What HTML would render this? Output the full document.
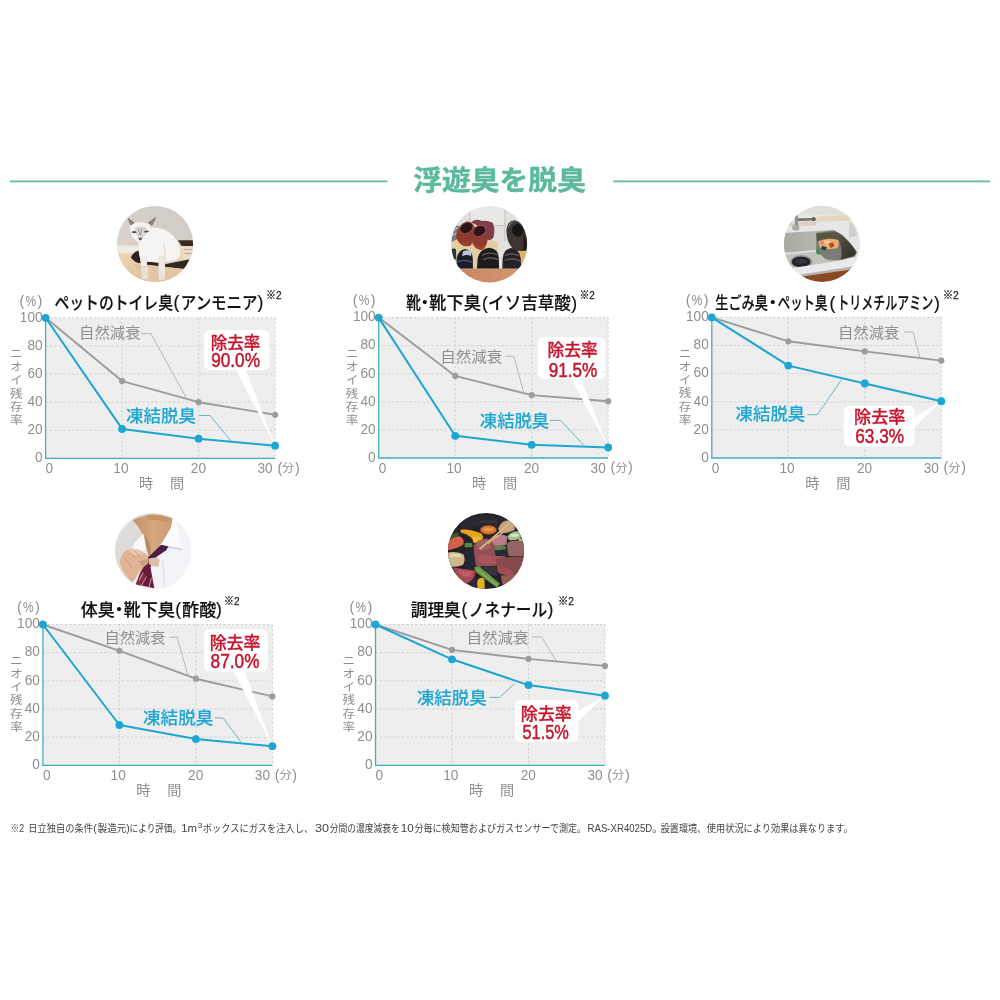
<!DOCTYPE html>
<html lang="ja">
<head>
<meta charset="utf-8">
<title>浮遊臭を脱臭</title>
<style>
html,body{margin:0;padding:0;background:#fff;}
body{width:1000px;height:1000px;overflow:hidden;font-family:"Liberation Sans", "Noto Sans CJK JP", sans-serif;}
svg{display:block;}
svg text{font-family:"Liberation Sans", "Noto Sans CJK JP", sans-serif;}
.gr{stroke:#cfcfcf;stroke-width:1;stroke-dasharray:2.2 2.2;fill:none;}
</style>
</head>
<body>
<svg width="1000" height="1000" viewBox="0 0 1000 1000">
<rect width="1000" height="1000" fill="#ffffff"/>
<line x1="10" y1="181.4" x2="387.5" y2="181.4" stroke="#5fb9a0" stroke-width="1.6"/>
<line x1="613.4" y1="181.4" x2="990" y2="181.4" stroke="#5fb9a0" stroke-width="1.6"/>
<text x="499.6" y="190.1" font-size="27" font-weight="700" fill="#5cb99d" stroke="#5cb99d" stroke-width="0.42" stroke-linejoin="round" text-anchor="middle" textLength="172.6" lengthAdjust="spacingAndGlyphs">浮遊臭を脱臭</text>
<defs>
<clipPath id="c1"><circle cx="155" cy="244" r="38.1"/></clipPath>
<clipPath id="c2"><circle cx="489.3" cy="244.3" r="38.1"/></clipPath>
<clipPath id="c3"><circle cx="822" cy="243.9" r="38.1"/></clipPath>
<clipPath id="c4"><circle cx="153" cy="551" r="38.1"/></clipPath>
<clipPath id="c5"><circle cx="486" cy="551" r="38.1"/></clipPath>
<filter id="bl" x="-10%" y="-10%" width="120%" height="120%"><feGaussianBlur stdDeviation="9"/></filter>
<linearGradient id="g1wall" x1="0" y1="1" x2="1" y2="0"><stop offset="0" stop-color="#e3d7cb"/><stop offset="0.5" stop-color="#d6cfc9"/><stop offset="1" stop-color="#cecac6"/></linearGradient>
<linearGradient id="g1floor" x1="0" y1="0" x2="0" y2="1"><stop offset="0" stop-color="#eedcc2"/><stop offset="1" stop-color="#dfbd94"/></linearGradient>
<linearGradient id="g2wood" x1="0" y1="0" x2="1" y2="0"><stop offset="0" stop-color="#c9805c"/><stop offset="1" stop-color="#d79a78"/></linearGradient>
<linearGradient id="g3basin" x1="0" y1="0" x2="1" y2="0"><stop offset="0" stop-color="#a9a8a1"/><stop offset="0.45" stop-color="#b7b6af"/><stop offset="1" stop-color="#9b9a90"/></linearGradient>
<linearGradient id="g3dark" x1="0" y1="0" x2="1" y2="1"><stop offset="0" stop-color="#5d5e4c"/><stop offset="1" stop-color="#2c2d2b"/></linearGradient>
<linearGradient id="g4neck" x1="0" y1="0" x2="1" y2="0"><stop offset="0" stop-color="#bf9064"/><stop offset="0.5" stop-color="#d5a87e"/><stop offset="1" stop-color="#cd9c70"/></linearGradient>
</defs>
<!-- photo 1 : cat -->
<g clip-path="url(#c1)"><g transform="translate(114 203) scale(0.082)">
<rect x="0" y="0" width="1000" height="1000" fill="url(#g1wall)"/>
<g filter="url(#bl)">
<rect x="-20" y="520" width="1040" height="500" fill="url(#g1floor)"/>
<path d="M-20 520 H300 V610 H-20Z" fill="#f0ebe2"/>
<path d="M780 455 L1000 455 L1000 528 L825 525 Z" fill="#3a2b22"/>
<path d="M825 528 H1000 V700 H850 Z" fill="#e9dfcc"/>
<path d="M850 560 h110 v14 h-110z M860 610 h100 v12 h-100z" fill="#b9aa92"/>
<path d="M205 665 Q235 600 300 580 L335 735 Q260 740 205 665Z" fill="#2b2422"/>
<path d="M330 705 L640 745 L920 685 L860 805 L640 780 L330 745Z" fill="#2d2624"/>
<path d="M250 740 L860 805 L760 940 L330 945 Z" fill="#e0c6a3"/>
<path d="M330 780 h90 l-6 150 h-80z M540 800 h85 l-8 140 h-72z" fill="#eadfd2"/>
<path d="M190 300 Q200 235 300 235 Q420 230 450 300 Q620 280 740 420 Q830 540 800 660 Q740 720 620 715 L330 715 Q290 610 300 480 Q200 430 190 300Z" fill="#f6f4f2"/>
<path d="M320 640 h85 l-4 130 h-76z" fill="#f2efeb"/>
<path d="M540 640 h85 l-4 250 h-76z" fill="#ece7e1"/>
<path d="M600 500 Q640 600 615 715" stroke="#dfd9d3" stroke-width="14" fill="none"/>
<path d="M165 180 L250 240 L205 275 Z" fill="#6a625f"/>
<path d="M515 170 L465 275 L415 240 Z" fill="#6a625f"/>
<path d="M185 205 L235 245 L210 262Z M495 198 L462 258 L435 240Z" fill="#9a8f8a"/>
<path d="M255 300 Q320 275 395 300 Q410 340 395 380 L330 435 L265 385 Q245 340 255 300Z" fill="#dad6d2"/>
<path d="M212 355 q33 -26 66 2 q-33 26 -66 -2z M362 350 q33 -28 68 -4 q-34 28 -68 4z" fill="#505660"/>
<path d="M290 310 l30 100 l30 -100 l-11 0 l-19 62 l-19 -62z" fill="#9a928e"/>
<path d="M292 412 q28 36 58 0 l-17 42 l-24 0z" fill="#5c4c4a"/>
</g></g></g>
<!-- photo 2 : shoes -->
<g clip-path="url(#c2)"><g transform="translate(449 203) scale(0.082)">
<rect x="0" y="0" width="1000" height="1000" fill="#e2e0dd"/>
<g filter="url(#bl)">
<rect x="255" y="40" width="425" height="235" fill="#e9e8e6"/>
<path d="M255 40 V300 M680 40 V560 M560 275 H690" stroke="#c6c4c2" stroke-width="12" fill="none"/>
<path d="M0 470 L330 400 L600 480 L600 810 L0 810 Z" fill="#e2cea2"/>
<path d="M820 560 H1000 V810 H820Z" fill="#dfb46c"/>
<path d="M600 470 H700 V810 H600Z" fill="#e5e2dd"/>
<rect x="0" y="800" width="1000" height="220" fill="url(#g2wood)"/>
<rect x="0" y="796" width="1000" height="14" fill="#b8a898"/>
<path d="M20 330 Q70 260 125 280 L110 440 L20 480Z" fill="#787c84"/>
<path d="M40 340 L110 300 M30 400 L105 360" stroke="#d0d2d6" stroke-width="12"/>
<path d="M270 235 Q330 185 400 220 Q470 205 535 245 Q570 330 540 425 Q500 470 455 440 Q430 300 270 235Z" fill="#7e3c4c"/>
<path d="M85 420 Q90 270 220 225 Q320 240 320 330 Q330 450 260 520 Q150 560 85 420Z" fill="#8e3a2e"/>
<path d="M270 440 Q270 300 380 265 Q470 280 475 370 Q480 500 420 565 Q310 600 270 440Z" fill="#8a3a30"/>
<ellipse cx="215" cy="300" rx="88" ry="68" fill="#9a4c4c" transform="rotate(-28 215 300)"/>
<ellipse cx="375" cy="337" rx="86" ry="68" fill="#9a4c4c" transform="rotate(-28 375 337)"/>
<ellipse cx="212" cy="303" rx="78" ry="58" fill="#2a1512" transform="rotate(-28 212 303)"/>
<ellipse cx="372" cy="341" rx="76" ry="57" fill="#2c1612" transform="rotate(-28 372 341)"/>
<path d="M100 440 Q170 520 250 470 L240 520 Q150 545 100 440Z M290 470 Q350 560 440 500 L420 560 Q320 590 290 470Z" fill="#a2402a"/>
<path d="M700 330 Q710 215 800 210 Q900 230 945 380 Q965 520 940 580 Q850 600 780 560 Q700 480 700 330Z" fill="#3d3633"/>
<ellipse cx="838" cy="335" rx="68" ry="78" fill="#161313" transform="rotate(-12 838 335)"/>
<path d="M905 360 Q960 450 940 580 L900 570 Q915 460 905 360Z" fill="#1f1c1c"/>
<path d="M725 300 Q740 240 790 225" stroke="#6f7686" stroke-width="14" fill="none"/>
<path d="M30 560 Q60 545 85 565 L90 690 L45 680Z" fill="#2a3048"/>
<path d="M88 800 L95 680 Q110 570 200 560 Q285 570 290 680 L292 800Z" fill="#1b1d28"/>
<path d="M170 590 Q230 560 275 590 L270 650 Q220 620 160 650Z" fill="#b9c4da"/>
<path d="M100 720 Q180 680 280 720" stroke="#3c5a8c" stroke-width="16" fill="none"/>
<path d="M340 800 L350 670 Q380 555 490 545 Q600 555 608 670 L610 800Z" fill="#1f1d1f"/>
<path d="M650 800 L655 670 Q670 560 760 550 Q865 565 875 680 L880 800Z" fill="#262425"/>
<path d="M400 640 Q490 590 590 630 M420 690 Q500 650 600 690 M680 640 Q760 600 850 640 M680 700 Q770 660 870 710" stroke="#5e5e64" stroke-width="16" fill="none"/>
</g></g></g>
<!-- photo 3 : sink -->
<g clip-path="url(#c3)"><g transform="translate(781 203) scale(0.082)">
<rect x="0" y="0" width="1000" height="1000" fill="#e5e6e5"/>
<g filter="url(#bl)">
<rect x="0" y="0" width="1000" height="140" fill="#dde0da"/>
<path d="M90 240 L430 215 L430 270 L100 285 Z" fill="#ddd0c2"/>
<path d="M430 165 L830 145 L850 212 L430 228 Z" fill="#e9d5bd"/>
<path d="M830 230 Q900 250 930 400 L830 420Z" fill="#cfcfcb"/>
<path d="M30 365 L640 328 Q760 380 930 600 L900 660 L600 720 L250 800 L30 780 Z" fill="url(#g3basin)"/>
<path d="M30 600 L430 570 L600 720 L250 810 L30 780Z" fill="#c2c2be"/>
<path d="M30 612 L430 572 L430 590 L30 632Z" fill="#e0e0e0"/>
<path d="M430 362 L640 332 Q740 370 800 440 Q880 520 925 600 L895 650 L720 700 L600 690 L430 600Z" fill="#7d7d70"/>
<path d="M640 345 Q740 380 800 450 Q880 530 918 600 L890 645 L730 690 Q760 560 700 450 Q670 380 640 345Z" fill="url(#g3dark)"/>
<path d="M430 375 L650 350 Q700 400 710 450 Q560 410 440 470Z" fill="#55563f"/>
<path d="M450 470 Q560 410 700 450 Q730 520 715 600 Q680 690 560 690 Q470 660 450 470Z" fill="#7b7b76"/>
<path d="M455 470 Q560 415 700 455 Q715 500 690 550 Q570 580 470 540Z" fill="#e6b070"/>
<path d="M520 470 Q560 440 600 470 Q580 500 540 500Z" fill="#f0d090"/>
<path d="M580 500 l50 -20 l25 45 l-50 25z" fill="#c64038"/>
<path d="M470 470 l50 -10 l10 40 l-50 10z" fill="#e88a6a"/>
<path d="M430 560 l50 10 l-5 60 l-45 -10z" fill="#3f8a5c"/>
<path d="M500 520 l60 20 l-20 40 l-50 -20z" fill="#333a3a"/>
<ellipse cx="248" cy="715" rx="138" ry="82" fill="#9a9a97"/>
<ellipse cx="245" cy="716" rx="115" ry="64" fill="#23252c"/>
<ellipse cx="245" cy="712" rx="70" ry="30" fill="#34363e"/>
<path d="M60 805 L935 672 L965 760 L240 872 Z" fill="#e9eaeb"/>
<path d="M240 872 L965 760 L965 800 L270 900Z" fill="#b9b3ac"/>
<path d="M260 895 L965 795 L965 1000 L200 1000 Z" fill="#8a4a22"/>
<path d="M175 185 L420 182 L420 212 L178 222Z" fill="#777775"/>
<rect x="170" y="135" width="36" height="200" fill="#8f8f8d"/>
<rect x="138" y="272" width="84" height="58" fill="#a9a9a7"/>
<circle cx="400" cy="196" r="24" fill="#5e5e5c"/>
</g></g></g>
<!-- photo 4 : shirt / tie -->
<g clip-path="url(#c4)"><g transform="translate(112 510) scale(0.082)">
<rect x="0" y="0" width="1000" height="1000" fill="#dddbd9"/>
<g filter="url(#bl)">
<path d="M0 0 H300 L240 130 Q120 250 40 420 L0 420Z" fill="#e6e5e4"/>
<path d="M560 560 L740 90 L1000 250 L1000 1000 L480 1000 L470 700Z" fill="#f4f4f8"/>
<path d="M250 450 L380 300 L420 520 L480 700 L500 1000 L250 1000Z" fill="#f2f2f5"/>
<path d="M620 620 L640 960 M820 300 L830 430" stroke="#e3e3ec" stroke-width="22" fill="none"/>
<path d="M255 125 Q450 20 742 96 L722 210 L608 410 L520 530 L450 565 L415 440 Q385 260 255 125Z" fill="url(#g4neck)"/>
<path d="M410 310 Q470 390 472 520 L450 565 L415 440Z" fill="#b98a5c"/>
<path d="M420 60 Q560 40 700 95 L680 150 Q560 110 440 120Z" fill="#c49466"/>
<path d="M740 90 L775 110 L865 465 L590 425 L560 450 L610 400 L725 210Z" fill="#fbfbfd"/>
<path d="M590 428 L860 468 L850 490 L590 445Z" fill="#d4d4de"/>
<path d="M290 380 L385 290 L410 480 L350 495 L245 445Z" fill="#f8f8fa"/>
<path d="M600 425 L690 445 L660 490 L480 615 L425 590 L520 500Z" fill="#4d1f47"/>
<path d="M430 580 L490 610 L470 700 L515 955 L290 905 L340 770 L400 660Z" fill="#681f3c"/>
<path d="M350 780 l60 10 l-70 130 l-40 -15z" fill="#8a2a40"/>
<path d="M420 810 L360 920 M480 830 L450 945 M380 760 L330 860" stroke="#dfa6b6" stroke-width="11" fill="none"/>
<path d="M440 570 l50 30 l-15 30 l-50 -25z" fill="#2a2350"/>
<path d="M95 640 Q100 530 190 485 Q300 455 410 530 Q460 580 440 650 Q390 690 340 740 Q300 830 250 880 Q140 800 95 640Z" fill="#e0b494"/>
<path d="M200 490 Q300 465 400 530 Q330 560 230 545Z" fill="#ecc8ad"/>
<path d="M330 630 Q400 590 450 600 Q440 650 370 690Z" fill="#cf9e7e"/>
<path d="M210 520 Q260 540 290 600 M270 500 Q330 530 350 590 M160 600 Q220 640 250 720" stroke="#c99878" stroke-width="11" fill="none"/>
<path d="M450 590 Q540 570 580 600 L570 690 Q500 700 450 660Z" fill="#dcbfa4"/>
</g></g></g>
<!-- photo 5 : bbq -->
<g clip-path="url(#c5)"><g transform="translate(445 510) scale(0.082)">
<rect x="0" y="0" width="1000" height="1000" fill="#252128"/>
<g filter="url(#bl)">
<path d="M150 150 Q450 20 760 110 L700 230 Q450 160 230 250Z" fill="#2a2630"/>
<path d="M420 130 h220 v30 h-220z" fill="#3e322e"/>
<path d="M185 240 Q300 225 440 285 Q490 335 445 385 L350 395 Q335 315 195 275Z" fill="#e6a41e"/>
<path d="M340 330 Q410 310 450 350 L430 400 L350 400Z" fill="#ecbc30"/>
<ellipse cx="530" cy="243" rx="100" ry="55" fill="#d9722e"/>
<ellipse cx="530" cy="238" rx="62" ry="26" fill="#e6964a"/>
<path d="M650 225 Q690 120 790 125 Q860 170 850 245 Q760 290 670 280Z" fill="#c4a480"/>
<path d="M760 320 Q820 250 900 260 Q940 300 920 340 Q850 380 780 365Z" fill="#a2c288"/>
<path d="M800 300 Q860 280 900 300 L880 330 Q840 320 800 330Z" fill="#dbe3d2"/>
<path d="M900 340 q50 10 60 60 l-40 30 q-30 -30 -20 -90z" fill="#bfcaa4"/>
<path d="M70 330 Q110 270 170 280 L150 340 Q100 340 70 380Z" fill="#375a36"/>
<path d="M30 420 Q60 330 180 320 Q240 350 225 420 Q150 470 30 490Z" fill="#d65e46"/>
<path d="M240 410 Q290 390 335 410 L330 450 Q280 460 240 450Z" fill="#578744"/>
<path d="M30 520 Q130 500 225 540 Q255 610 220 670 Q130 700 40 690Z" fill="#d0b88e"/>
<path d="M60 540 Q130 525 200 550 L200 580 Q130 560 60 575Z" fill="#e4d8bc"/>
<path d="M350 430 Q420 340 530 350 L640 420 Q720 520 740 600 L620 680 Q460 700 380 680 Q340 560 350 430Z" fill="#935054"/>
<path d="M400 560 Q520 520 700 590 L620 660 Q480 670 400 630Z" fill="#a9525a"/>
<path d="M380 400 Q450 350 520 370 L560 470 Q470 500 400 480Z" fill="#a06466"/>
<path d="M570 330 Q660 280 760 320 L750 420 Q660 450 590 420Z" fill="#b97c89"/>
<path d="M600 440 L740 438 L742 482 L602 486Z" fill="#58863a"/>
<path d="M600 490 L780 490 L790 560 L620 560Z" fill="#262c3a"/>
<path d="M760 400 Q830 360 960 380 L1000 560 L780 560 Q750 480 760 400Z" fill="#946664"/>
<path d="M620 600 Q800 560 1000 570 L960 780 L800 810 L640 760Z" fill="#884a4d"/>
<path d="M640 700 Q740 690 840 760 L800 810 L660 770Z" fill="#a04c56"/>
<path d="M680 800 L880 790 L860 900 L700 910Z" fill="#945c54"/>
<path d="M240 500 L350 480 L370 690 L250 700Z" fill="#272634"/>
<path d="M460 690 L620 680 L640 800 L520 800Z" fill="#35313b"/>
<path d="M95 700 L370 738 Q380 780 335 850 L260 905 Q150 830 95 700Z" fill="#aa4856"/>
<path d="M150 730 L340 760 L300 820 L200 800Z" fill="#bc5c66"/>
<path d="M355 700 L410 680 L670 900 L630 945 L380 760Z" fill="#689848"/>
<path d="M380 720 L640 920" stroke="#8bb65e" stroke-width="14" fill="none"/>
<path d="M400 850 Q440 810 480 840 L485 960 L380 960Z" fill="#e4b41e"/>
<path d="M300 880 L380 800 L400 960 L330 960Z" fill="#36203c"/>
<path d="M417 470 L792 143 L806 158 L430 485Z" fill="#dab888"/>
<path d="M517 403 L822 178 L833 192 L527 417Z" fill="#d2ac7c"/>
</g></g></g>

<g>
<rect x="45.6" y="317.8" width="229.5" height="140.6" fill="#eeeeee"/>
<line x1="45.6" y1="430.3" x2="275.1" y2="430.3" class="gr"/>
<line x1="45.6" y1="402.2" x2="275.1" y2="402.2" class="gr"/>
<line x1="45.6" y1="374.0" x2="275.1" y2="374.0" class="gr"/>
<line x1="45.6" y1="345.9" x2="275.1" y2="345.9" class="gr"/>
<line x1="45.6" y1="317.8" x2="275.1" y2="317.8" class="gr"/>
<line x1="122.1" y1="317.8" x2="122.1" y2="458.4" class="gr"/>
<line x1="198.6" y1="317.8" x2="198.6" y2="458.4" class="gr"/>
<line x1="275.1" y1="317.8" x2="275.1" y2="458.4" class="gr"/>
<path d="M45.6 317.8V458.4" fill="none" stroke="#41b1bf" stroke-width="1.3"/>
<path d="M45.0 458.4H275.1" fill="none" stroke="#3eabcb" stroke-width="1.3"/>
<polyline points="141,333.7 151,333.7 186,397.5" fill="none" stroke="#a8a8a8" stroke-width="0.8"/>
<polyline points="199,415.5 210,415.5 231,441" fill="none" stroke="#5aa9bd" stroke-width="0.85"/>
<polyline points="45.6,317.8 122.1,381.1 198.6,402.2 275.1,414.8" fill="none" stroke="#9c9c9c" stroke-width="1.9" stroke-linejoin="round"/>
<circle cx="122.1" cy="381.1" r="3.1" fill="#9c9c9c"/>
<circle cx="198.6" cy="402.2" r="3.1" fill="#9c9c9c"/>
<circle cx="275.1" cy="414.8" r="3.1" fill="#9c9c9c"/>
<rect x="204.2" y="330.0" width="65.1" height="39.7" rx="5.5" fill="#fff"/>
<polygon points="235.6,368.7 245.4,368.7 275.1,445.7" fill="#fff"/>
<polyline points="45.6,317.8 122.1,428.9 198.6,438.7 275.1,445.7" fill="none" stroke="#1ca6d1" stroke-width="2.0" stroke-linejoin="round"/>
<circle cx="45.6" cy="317.8" r="3.9" fill="#1ca6d1"/>
<circle cx="122.1" cy="428.9" r="3.9" fill="#1ca6d1"/>
<circle cx="198.6" cy="438.7" r="3.9" fill="#1ca6d1"/>
<circle cx="275.1" cy="445.7" r="3.9" fill="#1ca6d1"/>
<text x="42.6" y="462.1" font-size="15.0" fill="#8f8f8f" font-weight="400" text-anchor="end" textLength="7.6" lengthAdjust="spacingAndGlyphs">0</text>
<text x="42.6" y="434.0" font-size="15.0" fill="#8f8f8f" font-weight="400" text-anchor="end" textLength="15.2" lengthAdjust="spacingAndGlyphs">20</text>
<text x="42.6" y="405.9" font-size="15.0" fill="#8f8f8f" font-weight="400" text-anchor="end" textLength="15.2" lengthAdjust="spacingAndGlyphs">40</text>
<text x="42.6" y="377.7" font-size="15.0" fill="#8f8f8f" font-weight="400" text-anchor="end" textLength="15.2" lengthAdjust="spacingAndGlyphs">60</text>
<text x="42.6" y="349.6" font-size="15.0" fill="#8f8f8f" font-weight="400" text-anchor="end" textLength="15.2" lengthAdjust="spacingAndGlyphs">80</text>
<text x="42.6" y="321.5" font-size="15.0" fill="#8f8f8f" font-weight="400" text-anchor="end" textLength="22.8" lengthAdjust="spacingAndGlyphs">100</text>
<text y="305.6" font-size="14.4" fill="#8f8f8f"><tspan x="19.6">(</tspan><tspan x="25.6" font-size="13.8" textLength="10.6" lengthAdjust="spacingAndGlyphs">%</tspan><tspan x="37.6">)</tspan></text>
<text font-size="11.7" fill="#8f8f8f" text-anchor="middle"><tspan x="16.3" y="357.9" textLength="12.7" lengthAdjust="spacingAndGlyphs">ニ</tspan><tspan x="16.3" y="371.2" textLength="12.7" lengthAdjust="spacingAndGlyphs">オ</tspan><tspan x="16.3" y="384.4" textLength="12.7" lengthAdjust="spacingAndGlyphs">イ</tspan><tspan x="16.3" y="397.7" textLength="12.7" lengthAdjust="spacingAndGlyphs">残</tspan><tspan x="16.3" y="410.9" textLength="12.7" lengthAdjust="spacingAndGlyphs">存</tspan><tspan x="16.3" y="424.2" textLength="12.7" lengthAdjust="spacingAndGlyphs">率</tspan></text>
<text x="49.4" y="472.9" font-size="15.0" fill="#8f8f8f" font-weight="400" text-anchor="middle" textLength="7.6" lengthAdjust="spacingAndGlyphs">0</text>
<text x="120.9" y="472.9" font-size="15.0" fill="#8f8f8f" font-weight="400" text-anchor="middle" textLength="15.2" lengthAdjust="spacingAndGlyphs">10</text>
<text x="198.4" y="472.9" font-size="15.0" fill="#8f8f8f" font-weight="400" text-anchor="middle" textLength="15.2" lengthAdjust="spacingAndGlyphs">20</text>
<text x="272.7" y="472.9" font-size="15.0" fill="#8f8f8f" font-weight="400" text-anchor="end" textLength="15.2" lengthAdjust="spacingAndGlyphs">30</text>
<text y="472.5" font-size="14.2" fill="#8f8f8f"><tspan x="277.4">(</tspan><tspan x="282.1" y="472.0" font-size="11.6" textLength="12.2" lengthAdjust="spacingAndGlyphs">分</tspan><tspan x="295.0" y="472.5">)</tspan></text>
<text y="487.9" font-size="14.2" fill="#8f8f8f"><tspan x="139.0">時</tspan> <tspan x="170.0">間</tspan></text>
<text y="309.2" font-size="17.6" fill="#111" font-weight="500" stroke="#111" stroke-width="0.18"><tspan x="54.5" y="309.2" text-anchor="start" textLength="118.5" lengthAdjust="spacingAndGlyphs">ペットのトイレ臭</tspan><tspan x="173.4" y="308.3" text-anchor="start">(</tspan><tspan x="180.8" y="309.2" text-anchor="start" textLength="76.7" lengthAdjust="spacingAndGlyphs">アンモニア</tspan><tspan x="257.4" y="308.3" text-anchor="start">)</tspan></text>
<text x="266.0" y="298.6" font-size="11.5" fill="#222" font-weight="500" text-anchor="start" textLength="15.6" lengthAdjust="spacingAndGlyphs" stroke="#222" stroke-width="0.25">※2</text>
<text x="79.0" y="338.4" font-size="15.2" fill="#8f8f8f" font-weight="400" text-anchor="start" textLength="61.6" lengthAdjust="spacingAndGlyphs">自然減衰</text>
<text x="126.0" y="422.1" font-size="17.3" fill="#1ca6d1" font-weight="500" text-anchor="start" textLength="70.0" lengthAdjust="spacingAndGlyphs" stroke="#1ca6d1" stroke-width="0.12">凍結脱臭</text>
<text x="210.7" y="348.5" font-size="16.8" fill="#c5162e" font-weight="500" text-anchor="start" textLength="49.6" lengthAdjust="spacingAndGlyphs" stroke="#c5162e" stroke-width="0.3">除去率</text>
<text x="235.6" y="366.9" font-size="19.6" fill="#c5162e" font-weight="400" text-anchor="middle" textLength="48.8" lengthAdjust="spacingAndGlyphs" stroke="#c5162e" stroke-width="0.5">90.0%</text>
</g>
<g>
<rect x="378.7" y="317.6" width="229.5" height="140.4" fill="#eeeeee"/>
<line x1="378.7" y1="429.9" x2="608.2" y2="429.9" class="gr"/>
<line x1="378.7" y1="401.8" x2="608.2" y2="401.8" class="gr"/>
<line x1="378.7" y1="373.8" x2="608.2" y2="373.8" class="gr"/>
<line x1="378.7" y1="345.7" x2="608.2" y2="345.7" class="gr"/>
<line x1="378.7" y1="317.6" x2="608.2" y2="317.6" class="gr"/>
<line x1="455.2" y1="317.6" x2="455.2" y2="458.0" class="gr"/>
<line x1="531.7" y1="317.6" x2="531.7" y2="458.0" class="gr"/>
<line x1="608.2" y1="317.6" x2="608.2" y2="458.0" class="gr"/>
<path d="M378.7 317.6V458.0" fill="none" stroke="#41b1bf" stroke-width="1.3"/>
<path d="M378.1 458.0H608.2" fill="none" stroke="#3eabcb" stroke-width="1.3"/>
<polyline points="505,356.3 513.8,356.3 523.7,392.2" fill="none" stroke="#a8a8a8" stroke-width="0.8"/>
<polyline points="550,420.4 560.6,420.4 584.1,445.5" fill="none" stroke="#5aa9bd" stroke-width="0.85"/>
<polyline points="378.7,317.6 455.2,375.9 531.7,395.1 608.2,401.3" fill="none" stroke="#9c9c9c" stroke-width="1.9" stroke-linejoin="round"/>
<circle cx="455.2" cy="375.9" r="3.1" fill="#9c9c9c"/>
<circle cx="531.7" cy="395.1" r="3.1" fill="#9c9c9c"/>
<circle cx="608.2" cy="401.3" r="3.1" fill="#9c9c9c"/>
<rect x="537.8" y="337.0" width="67.6" height="42.0" rx="5.5" fill="#fff"/>
<polygon points="571,378 580.5,378 608.2,447.5" fill="#fff"/>
<polyline points="378.7,317.6 455.2,435.8 531.7,444.8 608.2,447.5" fill="none" stroke="#1ca6d1" stroke-width="2.0" stroke-linejoin="round"/>
<circle cx="378.7" cy="317.6" r="3.9" fill="#1ca6d1"/>
<circle cx="455.2" cy="435.8" r="3.9" fill="#1ca6d1"/>
<circle cx="531.7" cy="444.8" r="3.9" fill="#1ca6d1"/>
<circle cx="608.2" cy="447.5" r="3.9" fill="#1ca6d1"/>
<text x="375.7" y="461.7" font-size="15.0" fill="#8f8f8f" font-weight="400" text-anchor="end" textLength="7.6" lengthAdjust="spacingAndGlyphs">0</text>
<text x="375.7" y="433.6" font-size="15.0" fill="#8f8f8f" font-weight="400" text-anchor="end" textLength="15.2" lengthAdjust="spacingAndGlyphs">20</text>
<text x="375.7" y="405.5" font-size="15.0" fill="#8f8f8f" font-weight="400" text-anchor="end" textLength="15.2" lengthAdjust="spacingAndGlyphs">40</text>
<text x="375.7" y="377.5" font-size="15.0" fill="#8f8f8f" font-weight="400" text-anchor="end" textLength="15.2" lengthAdjust="spacingAndGlyphs">60</text>
<text x="375.7" y="349.4" font-size="15.0" fill="#8f8f8f" font-weight="400" text-anchor="end" textLength="15.2" lengthAdjust="spacingAndGlyphs">80</text>
<text x="375.7" y="321.3" font-size="15.0" fill="#8f8f8f" font-weight="400" text-anchor="end" textLength="22.8" lengthAdjust="spacingAndGlyphs">100</text>
<text y="305.4" font-size="14.4" fill="#8f8f8f"><tspan x="352.7">(</tspan><tspan x="358.7" font-size="13.8" textLength="10.6" lengthAdjust="spacingAndGlyphs">%</tspan><tspan x="370.7">)</tspan></text>
<text font-size="11.7" fill="#8f8f8f" text-anchor="middle"><tspan x="352.1" y="357.7" textLength="12.7" lengthAdjust="spacingAndGlyphs">ニ</tspan><tspan x="352.1" y="371.0" textLength="12.7" lengthAdjust="spacingAndGlyphs">オ</tspan><tspan x="352.1" y="384.2" textLength="12.7" lengthAdjust="spacingAndGlyphs">イ</tspan><tspan x="352.1" y="397.5" textLength="12.7" lengthAdjust="spacingAndGlyphs">残</tspan><tspan x="352.1" y="410.7" textLength="12.7" lengthAdjust="spacingAndGlyphs">存</tspan><tspan x="352.1" y="424.0" textLength="12.7" lengthAdjust="spacingAndGlyphs">率</tspan></text>
<text x="382.5" y="472.5" font-size="15.0" fill="#8f8f8f" font-weight="400" text-anchor="middle" textLength="7.6" lengthAdjust="spacingAndGlyphs">0</text>
<text x="454.0" y="472.5" font-size="15.0" fill="#8f8f8f" font-weight="400" text-anchor="middle" textLength="15.2" lengthAdjust="spacingAndGlyphs">10</text>
<text x="531.5" y="472.5" font-size="15.0" fill="#8f8f8f" font-weight="400" text-anchor="middle" textLength="15.2" lengthAdjust="spacingAndGlyphs">20</text>
<text x="605.8" y="472.5" font-size="15.0" fill="#8f8f8f" font-weight="400" text-anchor="end" textLength="15.2" lengthAdjust="spacingAndGlyphs">30</text>
<text y="472.1" font-size="14.2" fill="#8f8f8f"><tspan x="610.5">(</tspan><tspan x="615.2" y="471.6" font-size="11.6" textLength="12.2" lengthAdjust="spacingAndGlyphs">分</tspan><tspan x="628.1" y="472.1">)</tspan></text>
<text y="487.5" font-size="14.2" fill="#8f8f8f"><tspan x="472.1">時</tspan> <tspan x="503.1">間</tspan></text>
<text y="309.4" font-size="17.6" fill="#111" font-weight="500" stroke="#111" stroke-width="0.18"><tspan x="406.0" y="309.4" text-anchor="start" textLength="14.9" lengthAdjust="spacingAndGlyphs">靴</tspan><tspan x="424.8" y="309.4" text-anchor="middle">・</tspan><tspan x="429.1" y="309.4" text-anchor="start" textLength="52.0" lengthAdjust="spacingAndGlyphs">靴下臭</tspan><tspan x="481.9" y="308.5" text-anchor="start">(</tspan><tspan x="488.1" y="309.4" text-anchor="start" textLength="82.8" lengthAdjust="spacingAndGlyphs">イソ吉草酸</tspan><tspan x="571.3" y="308.5" text-anchor="start">)</tspan></text>
<text x="579.4" y="298.8" font-size="11.5" fill="#222" font-weight="500" text-anchor="start" textLength="15.5" lengthAdjust="spacingAndGlyphs" stroke="#222" stroke-width="0.25">※2</text>
<text x="440.2" y="361.7" font-size="15.2" fill="#8f8f8f" font-weight="400" text-anchor="start" textLength="62.1" lengthAdjust="spacingAndGlyphs">自然減衰</text>
<text x="479.8" y="426.9" font-size="17.3" fill="#1ca6d1" font-weight="500" text-anchor="start" textLength="69.4" lengthAdjust="spacingAndGlyphs" stroke="#1ca6d1" stroke-width="0.12">凍結脱臭</text>
<text x="547.5" y="356.4" font-size="16.8" fill="#c5162e" font-weight="500" text-anchor="start" textLength="50.1" lengthAdjust="spacingAndGlyphs" stroke="#c5162e" stroke-width="0.3">除去率</text>
<text x="573.0" y="376.7" font-size="19.6" fill="#c5162e" font-weight="400" text-anchor="middle" textLength="48.6" lengthAdjust="spacingAndGlyphs" stroke="#c5162e" stroke-width="0.5">91.5%</text>
</g>
<g>
<rect x="711.8" y="317.4" width="229.5" height="140.6" fill="#eeeeee"/>
<line x1="711.8" y1="429.9" x2="941.3" y2="429.9" class="gr"/>
<line x1="711.8" y1="401.8" x2="941.3" y2="401.8" class="gr"/>
<line x1="711.8" y1="373.6" x2="941.3" y2="373.6" class="gr"/>
<line x1="711.8" y1="345.5" x2="941.3" y2="345.5" class="gr"/>
<line x1="711.8" y1="317.4" x2="941.3" y2="317.4" class="gr"/>
<line x1="788.3" y1="317.4" x2="788.3" y2="458.0" class="gr"/>
<line x1="864.8" y1="317.4" x2="864.8" y2="458.0" class="gr"/>
<line x1="941.3" y1="317.4" x2="941.3" y2="458.0" class="gr"/>
<path d="M711.8 317.4V458.0" fill="none" stroke="#41b1bf" stroke-width="1.3"/>
<path d="M711.1 458.0H941.3" fill="none" stroke="#3eabcb" stroke-width="1.3"/>
<polyline points="904.3,332 913.1,332 919.7,357" fill="none" stroke="#a8a8a8" stroke-width="0.8"/>
<polyline points="807.5,414.7 817.4,414.7 841.6,379.5" fill="none" stroke="#5aa9bd" stroke-width="0.85"/>
<polyline points="711.8,317.4 788.3,341.3 864.8,351.4 941.3,360.6" fill="none" stroke="#9c9c9c" stroke-width="1.9" stroke-linejoin="round"/>
<circle cx="788.3" cy="341.3" r="3.1" fill="#9c9c9c"/>
<circle cx="864.8" cy="351.4" r="3.1" fill="#9c9c9c"/>
<circle cx="941.3" cy="360.6" r="3.1" fill="#9c9c9c"/>
<rect x="843.8" y="405.9" width="70.9" height="40.7" rx="5.5" fill="#fff"/>
<polygon points="913.7,417.5 913.7,428 941.3,401.2" fill="#fff"/>
<polyline points="711.8,317.4 788.3,365.6 864.8,383.5 941.3,401.2" fill="none" stroke="#1ca6d1" stroke-width="2.0" stroke-linejoin="round"/>
<circle cx="711.8" cy="317.4" r="3.9" fill="#1ca6d1"/>
<circle cx="788.3" cy="365.6" r="3.9" fill="#1ca6d1"/>
<circle cx="864.8" cy="383.5" r="3.9" fill="#1ca6d1"/>
<circle cx="941.3" cy="401.2" r="3.9" fill="#1ca6d1"/>
<text x="708.8" y="461.7" font-size="15.0" fill="#8f8f8f" font-weight="400" text-anchor="end" textLength="7.6" lengthAdjust="spacingAndGlyphs">0</text>
<text x="708.8" y="433.6" font-size="15.0" fill="#8f8f8f" font-weight="400" text-anchor="end" textLength="15.2" lengthAdjust="spacingAndGlyphs">20</text>
<text x="708.8" y="405.5" font-size="15.0" fill="#8f8f8f" font-weight="400" text-anchor="end" textLength="15.2" lengthAdjust="spacingAndGlyphs">40</text>
<text x="708.8" y="377.3" font-size="15.0" fill="#8f8f8f" font-weight="400" text-anchor="end" textLength="15.2" lengthAdjust="spacingAndGlyphs">60</text>
<text x="708.8" y="349.2" font-size="15.0" fill="#8f8f8f" font-weight="400" text-anchor="end" textLength="15.2" lengthAdjust="spacingAndGlyphs">80</text>
<text x="708.8" y="321.1" font-size="15.0" fill="#8f8f8f" font-weight="400" text-anchor="end" textLength="22.8" lengthAdjust="spacingAndGlyphs">100</text>
<text y="305.2" font-size="14.4" fill="#8f8f8f"><tspan x="685.8">(</tspan><tspan x="691.8" font-size="13.8" textLength="10.6" lengthAdjust="spacingAndGlyphs">%</tspan><tspan x="703.8">)</tspan></text>
<text font-size="11.7" fill="#8f8f8f" text-anchor="middle"><tspan x="685.2" y="357.5" textLength="12.7" lengthAdjust="spacingAndGlyphs">ニ</tspan><tspan x="685.2" y="370.8" textLength="12.7" lengthAdjust="spacingAndGlyphs">オ</tspan><tspan x="685.2" y="384.0" textLength="12.7" lengthAdjust="spacingAndGlyphs">イ</tspan><tspan x="685.2" y="397.2" textLength="12.7" lengthAdjust="spacingAndGlyphs">残</tspan><tspan x="685.2" y="410.5" textLength="12.7" lengthAdjust="spacingAndGlyphs">存</tspan><tspan x="685.2" y="423.8" textLength="12.7" lengthAdjust="spacingAndGlyphs">率</tspan></text>
<text x="715.6" y="472.5" font-size="15.0" fill="#8f8f8f" font-weight="400" text-anchor="middle" textLength="7.6" lengthAdjust="spacingAndGlyphs">0</text>
<text x="787.1" y="472.5" font-size="15.0" fill="#8f8f8f" font-weight="400" text-anchor="middle" textLength="15.2" lengthAdjust="spacingAndGlyphs">10</text>
<text x="864.6" y="472.5" font-size="15.0" fill="#8f8f8f" font-weight="400" text-anchor="middle" textLength="15.2" lengthAdjust="spacingAndGlyphs">20</text>
<text x="938.9" y="472.5" font-size="15.0" fill="#8f8f8f" font-weight="400" text-anchor="end" textLength="15.2" lengthAdjust="spacingAndGlyphs">30</text>
<text y="472.1" font-size="14.2" fill="#8f8f8f"><tspan x="943.6">(</tspan><tspan x="948.3" y="471.6" font-size="11.6" textLength="12.2" lengthAdjust="spacingAndGlyphs">分</tspan><tspan x="961.2" y="472.1">)</tspan></text>
<text y="487.5" font-size="14.2" fill="#8f8f8f"><tspan x="805.2">時</tspan> <tspan x="836.2">間</tspan></text>
<text y="309.4" font-size="17.6" fill="#111" font-weight="500" stroke="#111" stroke-width="0.18"><tspan x="715.2" y="309.4" text-anchor="start" textLength="52.8" lengthAdjust="spacingAndGlyphs">生ごみ臭</tspan><tspan x="772.9" y="309.4" text-anchor="middle">・</tspan><tspan x="777.8" y="309.4" text-anchor="start" textLength="49.6" lengthAdjust="spacingAndGlyphs">ペット臭</tspan><tspan x="829.4" y="308.5" text-anchor="start">(</tspan><tspan x="837.2" y="309.4" text-anchor="start" textLength="96.0" lengthAdjust="spacingAndGlyphs">トリメチルアミン</tspan><tspan x="933.9" y="308.5" text-anchor="start">)</tspan></text>
<text x="942.7" y="298.8" font-size="11.5" fill="#222" font-weight="500" text-anchor="start" textLength="16.2" lengthAdjust="spacingAndGlyphs" stroke="#222" stroke-width="0.25">※2</text>
<text x="838.0" y="337.5" font-size="15.2" fill="#8f8f8f" font-weight="400" text-anchor="start" textLength="61.4" lengthAdjust="spacingAndGlyphs">自然減衰</text>
<text x="735.6" y="420.3" font-size="17.3" fill="#1ca6d1" font-weight="500" text-anchor="start" textLength="69.7" lengthAdjust="spacingAndGlyphs" stroke="#1ca6d1" stroke-width="0.12">凍結脱臭</text>
<text x="854.1" y="422.9" font-size="16.8" fill="#c5162e" font-weight="500" text-anchor="start" textLength="51.2" lengthAdjust="spacingAndGlyphs" stroke="#c5162e" stroke-width="0.3">除去率</text>
<text x="879.7" y="443.1" font-size="19.6" fill="#c5162e" font-weight="400" text-anchor="middle" textLength="48.8" lengthAdjust="spacingAndGlyphs" stroke="#c5162e" stroke-width="0.5">63.3%</text>
</g>
<g>
<rect x="42.9" y="624.5" width="229.5" height="140.9" fill="#eeeeee"/>
<line x1="42.9" y1="737.2" x2="272.4" y2="737.2" class="gr"/>
<line x1="42.9" y1="709.0" x2="272.4" y2="709.0" class="gr"/>
<line x1="42.9" y1="680.9" x2="272.4" y2="680.9" class="gr"/>
<line x1="42.9" y1="652.7" x2="272.4" y2="652.7" class="gr"/>
<line x1="42.9" y1="624.5" x2="272.4" y2="624.5" class="gr"/>
<line x1="119.4" y1="624.5" x2="119.4" y2="765.4" class="gr"/>
<line x1="195.9" y1="624.5" x2="195.9" y2="765.4" class="gr"/>
<line x1="272.4" y1="624.5" x2="272.4" y2="765.4" class="gr"/>
<path d="M42.9 624.5V765.4" fill="none" stroke="#41b1bf" stroke-width="1.3"/>
<path d="M42.2 765.4H272.4" fill="none" stroke="#3eabcb" stroke-width="1.3"/>
<polyline points="169.4,637.3 177.1,637.3 188.1,675.8" fill="none" stroke="#a8a8a8" stroke-width="0.8"/>
<polyline points="214.9,718 223.2,718 240.8,741.8" fill="none" stroke="#5aa9bd" stroke-width="0.85"/>
<polyline points="42.9,624.5 119.4,650.8 195.9,678.7 272.4,696.4" fill="none" stroke="#9c9c9c" stroke-width="1.9" stroke-linejoin="round"/>
<circle cx="119.4" cy="650.8" r="3.1" fill="#9c9c9c"/>
<circle cx="195.9" cy="678.7" r="3.1" fill="#9c9c9c"/>
<circle cx="272.4" cy="696.4" r="3.1" fill="#9c9c9c"/>
<rect x="203.9" y="629.6" width="63.8" height="42.2" rx="5.5" fill="#fff"/>
<polygon points="233,670.8 244.5,670.8 272.4,746.2" fill="#fff"/>
<polyline points="42.9,624.5 119.4,725.0 195.9,739.1 272.4,746.2" fill="none" stroke="#1ca6d1" stroke-width="2.0" stroke-linejoin="round"/>
<circle cx="42.9" cy="624.5" r="3.9" fill="#1ca6d1"/>
<circle cx="119.4" cy="725.0" r="3.9" fill="#1ca6d1"/>
<circle cx="195.9" cy="739.1" r="3.9" fill="#1ca6d1"/>
<circle cx="272.4" cy="746.2" r="3.9" fill="#1ca6d1"/>
<text x="39.9" y="769.1" font-size="15.0" fill="#8f8f8f" font-weight="400" text-anchor="end" textLength="7.6" lengthAdjust="spacingAndGlyphs">0</text>
<text x="39.9" y="740.9" font-size="15.0" fill="#8f8f8f" font-weight="400" text-anchor="end" textLength="15.2" lengthAdjust="spacingAndGlyphs">20</text>
<text x="39.9" y="712.7" font-size="15.0" fill="#8f8f8f" font-weight="400" text-anchor="end" textLength="15.2" lengthAdjust="spacingAndGlyphs">40</text>
<text x="39.9" y="684.6" font-size="15.0" fill="#8f8f8f" font-weight="400" text-anchor="end" textLength="15.2" lengthAdjust="spacingAndGlyphs">60</text>
<text x="39.9" y="656.4" font-size="15.0" fill="#8f8f8f" font-weight="400" text-anchor="end" textLength="15.2" lengthAdjust="spacingAndGlyphs">80</text>
<text x="39.9" y="628.2" font-size="15.0" fill="#8f8f8f" font-weight="400" text-anchor="end" textLength="22.8" lengthAdjust="spacingAndGlyphs">100</text>
<text y="612.3" font-size="14.4" fill="#8f8f8f"><tspan x="16.9">(</tspan><tspan x="22.9" font-size="13.8" textLength="10.6" lengthAdjust="spacingAndGlyphs">%</tspan><tspan x="34.9">)</tspan></text>
<text font-size="11.7" fill="#8f8f8f" text-anchor="middle"><tspan x="16.3" y="664.6" textLength="12.7" lengthAdjust="spacingAndGlyphs">ニ</tspan><tspan x="16.3" y="677.9" textLength="12.7" lengthAdjust="spacingAndGlyphs">オ</tspan><tspan x="16.3" y="691.1" textLength="12.7" lengthAdjust="spacingAndGlyphs">イ</tspan><tspan x="16.3" y="704.4" textLength="12.7" lengthAdjust="spacingAndGlyphs">残</tspan><tspan x="16.3" y="717.6" textLength="12.7" lengthAdjust="spacingAndGlyphs">存</tspan><tspan x="16.3" y="730.9" textLength="12.7" lengthAdjust="spacingAndGlyphs">率</tspan></text>
<text x="46.7" y="779.9" font-size="15.0" fill="#8f8f8f" font-weight="400" text-anchor="middle" textLength="7.6" lengthAdjust="spacingAndGlyphs">0</text>
<text x="118.2" y="779.9" font-size="15.0" fill="#8f8f8f" font-weight="400" text-anchor="middle" textLength="15.2" lengthAdjust="spacingAndGlyphs">10</text>
<text x="195.7" y="779.9" font-size="15.0" fill="#8f8f8f" font-weight="400" text-anchor="middle" textLength="15.2" lengthAdjust="spacingAndGlyphs">20</text>
<text x="270.0" y="779.9" font-size="15.0" fill="#8f8f8f" font-weight="400" text-anchor="end" textLength="15.2" lengthAdjust="spacingAndGlyphs">30</text>
<text y="779.5" font-size="14.2" fill="#8f8f8f"><tspan x="274.7">(</tspan><tspan x="279.4" y="779.0" font-size="11.6" textLength="12.2" lengthAdjust="spacingAndGlyphs">分</tspan><tspan x="292.3" y="779.5">)</tspan></text>
<text y="794.9" font-size="14.2" fill="#8f8f8f"><tspan x="136.3">時</tspan> <tspan x="167.3">間</tspan></text>
<text y="616.0" font-size="17.6" fill="#111" font-weight="500" stroke="#111" stroke-width="0.18"><tspan x="80.7" y="616.0" text-anchor="start" textLength="33.9" lengthAdjust="spacingAndGlyphs">体臭</tspan><tspan x="119.0" y="616.0" text-anchor="middle">・</tspan><tspan x="123.5" y="616.0" text-anchor="start" textLength="51.4" lengthAdjust="spacingAndGlyphs">靴下臭</tspan><tspan x="175.3" y="615.1" text-anchor="start">(</tspan><tspan x="182.0" y="616.0" text-anchor="start" textLength="34.3" lengthAdjust="spacingAndGlyphs">酢酸</tspan><tspan x="216.0" y="615.1" text-anchor="start">)</tspan></text>
<text x="224.1" y="605.4" font-size="11.5" fill="#222" font-weight="500" text-anchor="start" textLength="15.4" lengthAdjust="spacingAndGlyphs" stroke="#222" stroke-width="0.25">※2</text>
<text x="104.6" y="642.7" font-size="15.2" fill="#8f8f8f" font-weight="400" text-anchor="start" textLength="61.0" lengthAdjust="spacingAndGlyphs">自然減衰</text>
<text x="143.0" y="724.4" font-size="17.3" fill="#1ca6d1" font-weight="500" text-anchor="start" textLength="70.4" lengthAdjust="spacingAndGlyphs" stroke="#1ca6d1" stroke-width="0.12">凍結脱臭</text>
<text x="209.7" y="648.8" font-size="16.8" fill="#c5162e" font-weight="500" text-anchor="start" textLength="50.8" lengthAdjust="spacingAndGlyphs" stroke="#c5162e" stroke-width="0.3">除去率</text>
<text x="235.1" y="668.4" font-size="19.6" fill="#c5162e" font-weight="400" text-anchor="middle" textLength="49.0" lengthAdjust="spacingAndGlyphs" stroke="#c5162e" stroke-width="0.5">87.0%</text>
</g>
<g>
<rect x="375.5" y="624.5" width="229.5" height="140.9" fill="#eeeeee"/>
<line x1="375.5" y1="737.2" x2="605.0" y2="737.2" class="gr"/>
<line x1="375.5" y1="709.0" x2="605.0" y2="709.0" class="gr"/>
<line x1="375.5" y1="680.9" x2="605.0" y2="680.9" class="gr"/>
<line x1="375.5" y1="652.7" x2="605.0" y2="652.7" class="gr"/>
<line x1="375.5" y1="624.5" x2="605.0" y2="624.5" class="gr"/>
<line x1="452.0" y1="624.5" x2="452.0" y2="765.4" class="gr"/>
<line x1="528.5" y1="624.5" x2="528.5" y2="765.4" class="gr"/>
<line x1="605.0" y1="624.5" x2="605.0" y2="765.4" class="gr"/>
<path d="M375.5 624.5V765.4" fill="none" stroke="#41b1bf" stroke-width="1.3"/>
<path d="M374.9 765.4H605.0" fill="none" stroke="#3eabcb" stroke-width="1.3"/>
<polyline points="532.4,637 541.6,637 556.6,661.5" fill="none" stroke="#a8a8a8" stroke-width="0.8"/>
<polyline points="489.5,697.4 499.4,697.4 514.8,683.5" fill="none" stroke="#5aa9bd" stroke-width="0.85"/>
<polyline points="375.5,624.5 452.0,649.9 528.5,658.9 605.0,665.9" fill="none" stroke="#9c9c9c" stroke-width="1.9" stroke-linejoin="round"/>
<circle cx="452.0" cy="649.9" r="3.1" fill="#9c9c9c"/>
<circle cx="528.5" cy="658.9" r="3.1" fill="#9c9c9c"/>
<circle cx="605.0" cy="665.9" r="3.1" fill="#9c9c9c"/>
<rect x="514.8" y="700.0" width="63.8" height="41.8" rx="5.5" fill="#fff"/>
<polygon points="577.6,711 577.6,722 605.0,695.7" fill="#fff"/>
<polyline points="375.5,624.5 452.0,659.3 528.5,685.1 605.0,695.7" fill="none" stroke="#1ca6d1" stroke-width="2.0" stroke-linejoin="round"/>
<circle cx="375.5" cy="624.5" r="3.9" fill="#1ca6d1"/>
<circle cx="452.0" cy="659.3" r="3.9" fill="#1ca6d1"/>
<circle cx="528.5" cy="685.1" r="3.9" fill="#1ca6d1"/>
<circle cx="605.0" cy="695.7" r="3.9" fill="#1ca6d1"/>
<text x="372.5" y="769.1" font-size="15.0" fill="#8f8f8f" font-weight="400" text-anchor="end" textLength="7.6" lengthAdjust="spacingAndGlyphs">0</text>
<text x="372.5" y="740.9" font-size="15.0" fill="#8f8f8f" font-weight="400" text-anchor="end" textLength="15.2" lengthAdjust="spacingAndGlyphs">20</text>
<text x="372.5" y="712.7" font-size="15.0" fill="#8f8f8f" font-weight="400" text-anchor="end" textLength="15.2" lengthAdjust="spacingAndGlyphs">40</text>
<text x="372.5" y="684.6" font-size="15.0" fill="#8f8f8f" font-weight="400" text-anchor="end" textLength="15.2" lengthAdjust="spacingAndGlyphs">60</text>
<text x="372.5" y="656.4" font-size="15.0" fill="#8f8f8f" font-weight="400" text-anchor="end" textLength="15.2" lengthAdjust="spacingAndGlyphs">80</text>
<text x="372.5" y="628.2" font-size="15.0" fill="#8f8f8f" font-weight="400" text-anchor="end" textLength="22.8" lengthAdjust="spacingAndGlyphs">100</text>
<text y="612.3" font-size="14.4" fill="#8f8f8f"><tspan x="349.5">(</tspan><tspan x="355.5" font-size="13.8" textLength="10.6" lengthAdjust="spacingAndGlyphs">%</tspan><tspan x="367.5">)</tspan></text>
<text font-size="11.7" fill="#8f8f8f" text-anchor="middle"><tspan x="348.9" y="664.6" textLength="12.7" lengthAdjust="spacingAndGlyphs">ニ</tspan><tspan x="348.9" y="677.9" textLength="12.7" lengthAdjust="spacingAndGlyphs">オ</tspan><tspan x="348.9" y="691.1" textLength="12.7" lengthAdjust="spacingAndGlyphs">イ</tspan><tspan x="348.9" y="704.4" textLength="12.7" lengthAdjust="spacingAndGlyphs">残</tspan><tspan x="348.9" y="717.6" textLength="12.7" lengthAdjust="spacingAndGlyphs">存</tspan><tspan x="348.9" y="730.9" textLength="12.7" lengthAdjust="spacingAndGlyphs">率</tspan></text>
<text x="379.3" y="779.9" font-size="15.0" fill="#8f8f8f" font-weight="400" text-anchor="middle" textLength="7.6" lengthAdjust="spacingAndGlyphs">0</text>
<text x="450.8" y="779.9" font-size="15.0" fill="#8f8f8f" font-weight="400" text-anchor="middle" textLength="15.2" lengthAdjust="spacingAndGlyphs">10</text>
<text x="528.3" y="779.9" font-size="15.0" fill="#8f8f8f" font-weight="400" text-anchor="middle" textLength="15.2" lengthAdjust="spacingAndGlyphs">20</text>
<text x="602.6" y="779.9" font-size="15.0" fill="#8f8f8f" font-weight="400" text-anchor="end" textLength="15.2" lengthAdjust="spacingAndGlyphs">30</text>
<text y="779.5" font-size="14.2" fill="#8f8f8f"><tspan x="607.3">(</tspan><tspan x="612.0" y="779.0" font-size="11.6" textLength="12.2" lengthAdjust="spacingAndGlyphs">分</tspan><tspan x="624.9" y="779.5">)</tspan></text>
<text y="794.9" font-size="14.2" fill="#8f8f8f"><tspan x="468.9">時</tspan> <tspan x="499.9">間</tspan></text>
<text y="616.0" font-size="17.6" fill="#111" font-weight="500" stroke="#111" stroke-width="0.18"><tspan x="410.7" y="616.0" text-anchor="start" textLength="50.1" lengthAdjust="spacingAndGlyphs">調理臭</tspan><tspan x="461.4" y="615.1" text-anchor="start">(</tspan><tspan x="468.8" y="616.0" text-anchor="start" textLength="78.4" lengthAdjust="spacingAndGlyphs">ノネナール</tspan><tspan x="547.4" y="615.1" text-anchor="start">)</tspan></text>
<text x="558.1" y="605.4" font-size="11.5" fill="#222" font-weight="500" text-anchor="start" textLength="15.9" lengthAdjust="spacingAndGlyphs" stroke="#222" stroke-width="0.25">※2</text>
<text x="466.5" y="642.7" font-size="15.2" fill="#8f8f8f" font-weight="400" text-anchor="start" textLength="62.1" lengthAdjust="spacingAndGlyphs">自然減衰</text>
<text x="416.9" y="703.9" font-size="17.3" fill="#1ca6d1" font-weight="500" text-anchor="start" textLength="69.8" lengthAdjust="spacingAndGlyphs" stroke="#1ca6d1" stroke-width="0.12">凍結脱臭</text>
<text x="520.7" y="719.7" font-size="16.8" fill="#c5162e" font-weight="500" text-anchor="start" textLength="51.0" lengthAdjust="spacingAndGlyphs" stroke="#c5162e" stroke-width="0.3">除去率</text>
<text x="545.7" y="739.3" font-size="19.6" fill="#c5162e" font-weight="400" text-anchor="middle" textLength="46.4" lengthAdjust="spacingAndGlyphs" stroke="#c5162e" stroke-width="0.5">51.5%</text>
</g>
<text font-size="10.4" fill="#444444"><tspan x="10.6" y="831.5" textLength="13.6" lengthAdjust="spacingAndGlyphs">※2</tspan> <tspan x="28.3" y="831.5" textLength="64.6" lengthAdjust="spacingAndGlyphs">日立独自の条件</tspan><tspan x="93.2" y="831.5">(</tspan><tspan x="97.6" y="831.5" textLength="28.8" lengthAdjust="spacingAndGlyphs">製造元</tspan><tspan x="126.3" y="831.5">)</tspan><tspan x="129.6" y="831.5" textLength="51.5" lengthAdjust="spacingAndGlyphs">により評価。</tspan><tspan x="181.3" y="831.5" textLength="15.8" lengthAdjust="spacingAndGlyphs">1m</tspan><tspan x="197.8" y="827.9" font-size="7.6" textLength="4.6" lengthAdjust="spacingAndGlyphs">3</tspan><tspan x="202.8" y="831.5" textLength="110.4" lengthAdjust="spacingAndGlyphs">ボックスにガスを注入し、</tspan><tspan x="315.0" y="831.5" textLength="14.0" lengthAdjust="spacingAndGlyphs">30</tspan><tspan x="329.7" y="831.5" textLength="70.0" lengthAdjust="spacingAndGlyphs">分間の濃度減衰を</tspan><tspan x="400.8" y="831.5" textLength="13.0" lengthAdjust="spacingAndGlyphs">10</tspan><tspan x="414.4" y="831.5" textLength="171.8" lengthAdjust="spacingAndGlyphs">分毎に検知管およびガスセンサーで測定。</tspan><tspan x="587.5" y="831.5" textLength="64.8" lengthAdjust="spacingAndGlyphs">RAS-XR4025D</tspan><tspan x="652.2" y="831.5">。</tspan><tspan x="660.8" y="831.5" textLength="45.2" lengthAdjust="spacingAndGlyphs">設置環境、</tspan><tspan x="706.8" y="831.5" textLength="146.0" lengthAdjust="spacingAndGlyphs">使用状況により効果は異なります。</tspan></text>
</svg>
</body>
</html>
